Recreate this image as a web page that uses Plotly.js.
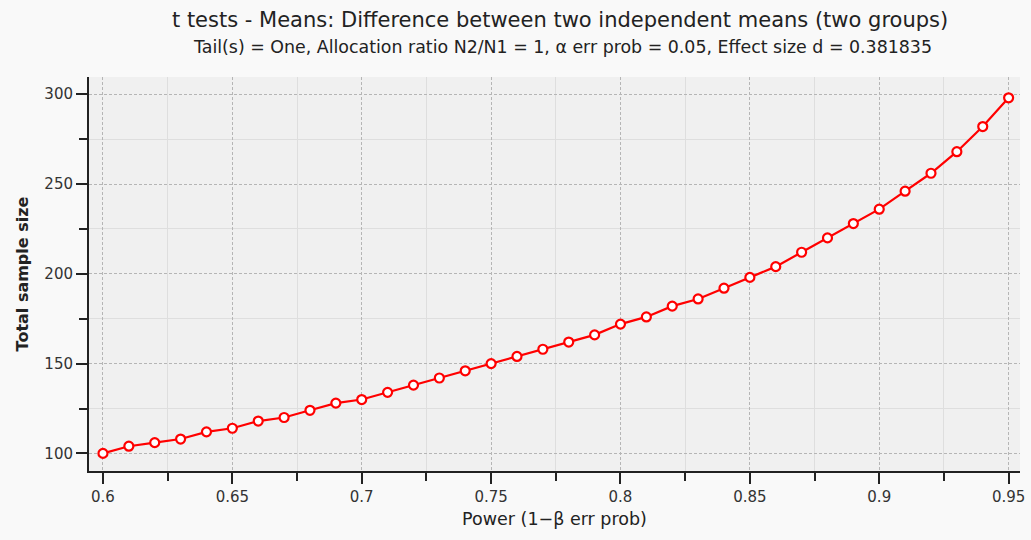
<!DOCTYPE html>
<html>
<head>
<meta charset="utf-8">
<script src="https://cdn.plot.ly/plotly-3.0.1.min.js"></script>
<style>html,body{margin:0;padding:0;background:#f9f9f9;}#chart{width:1031px;height:540px;}</style>
</head>
<body>
<div id="chart"></div>
<script>
// Power (1-β err prob)
const power = [0.60, 0.61, 0.62, 0.63, 0.64, 0.65, 0.66, 0.67, 0.68, 0.69,
               0.70, 0.71, 0.72, 0.73, 0.74, 0.75, 0.76, 0.77, 0.78, 0.79,
               0.80, 0.81, 0.82, 0.83, 0.84, 0.85, 0.86, 0.87, 0.88, 0.89,
               0.90, 0.91, 0.92, 0.93, 0.94, 0.95];
// Total sample size
const totalSampleSize = [100, 104, 106, 108, 112, 114, 118, 120, 124, 128,
                         130, 134, 138, 142, 146, 150, 154, 158, 162, 166,
                         172, 176, 182, 186, 192, 198, 204, 212, 220, 228,
                         236, 246, 256, 268, 282, 298];
const titleText = "t tests - Means: Difference between two independent means (two groups)";
const subtitleText = "Tail(s) = One, Allocation ratio N2/N1 = 1, α err prob = 0.05, Effect size d = 0.381835";
const xTitle = "Power (1−β err prob)";
const yTitle = "Total sample size";

const FONT = "DejaVu Sans, sans-serif";

const trace = {
  x: power,
  y: totalSampleSize,
  type: "scatter",
  mode: "lines+markers",
  line: {color: "#ff0000", width: 2.2},
  marker: {symbol: "circle", size: 9, color: "#ffffff", line: {color: "#ff0000", width: 2.2}},
  hoverinfo: "x+y"
};

const axisCommon = {
  showline: true, linecolor: "#222", linewidth: 2,
  ticks: "outside", ticklen: 11, tickwidth: 2, tickcolor: "#222",
  showgrid: true, gridcolor: "#b5b5b5", gridwidth: 1, griddash: "3px,2px",
  zeroline: false, mirror: false,
  tickfont: {family: FONT, size: 15, color: "#333"},
  fixedrange: true
};

const layout = {
  width: 1031, height: 540,
  paper_bgcolor: "#f9f9f9",
  plot_bgcolor: "#f0f0f0",
  margin: {l: 89, r: 11, t: 77, b: 69, pad: 0},
  showlegend: false,
  font: {family: FONT, color: "#222"},
  title: {
    text: titleText,
    font: {family: FONT, size: 21, color: "#222"},
    x: 0.506, xref: "paper", xanchor: "center",
    y: 1 - 20/540, yref: "container", yanchor: "middle"
  },
  annotations: [{
    text: subtitleText, showarrow: false,
    xref: "paper", x: 0.509, xanchor: "center",
    yref: "paper", y: 1 + 30/394, yanchor: "middle",
    font: {family: FONT, size: 17.4, color: "#222"}
  }],
  xaxis: Object.assign({}, axisCommon, {
    range: [0.5946, 0.9544],
    tick0: 0.6, dtick: 0.05,
    minor: {dtick: 0.025, tick0: 0.6, ticklen: 8, tickwidth: 2, tickcolor: "#222",
            ticks: "outside", showgrid: true, gridcolor: "#dedede", gridwidth: 1, griddash: "solid"},
    title: {text: xTitle, font: {family: FONT, size: 17.5, color: "#222"}, standoff: 8}
  }),
  yaxis: Object.assign({}, axisCommon, {
    range: [90.2, 309.6],
    tick0: 100, dtick: 50,
    minor: {dtick: 25, tick0: 100, ticklen: 8, tickwidth: 2, tickcolor: "#222",
            ticks: "outside", showgrid: true, gridcolor: "#dedede", gridwidth: 1, griddash: "solid"},
    title: {text: "<b>" + yTitle + "</b>", font: {family: FONT, size: 16, color: "#222"}, standoff: 12}
  })
};

Plotly.newPlot("chart", [trace], layout, {displayModeBar: false, staticPlot: true});
</script>
</body>
</html>
